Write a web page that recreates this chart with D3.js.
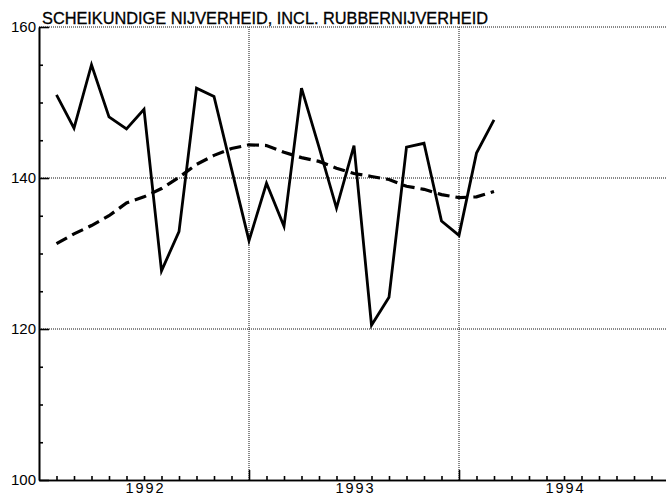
<!DOCTYPE html>
<html>
<head>
<meta charset="utf-8">
<script src="https://cdn.jsdelivr.net/npm/d3@7"></script>
<style>
  body { margin: 0; background: #fff; }
  svg { display: block; font-family: "Liberation Sans", Arial, sans-serif; }
</style>
</head>
<body>
<div id="chart"></div>
<script>
// monthly points, index 1 = end of jan 1992
var monthIdx = d3.range(1, 27)
var actual = [151.0, 146.6, 155.0, 148.1, 146.5, 149.1, 127.7, 132.9, 151.9, 150.8, 141.2, 131.7,
              139.3, 133.6, 151.9, 144.1, 136.0, 144.3, 120.5, 124.2, 144.1, 144.6, 134.3, 132.4,
              143.3, 147.7]
var trend = [131.3, 132.6, 133.7, 135.0, 136.7, 137.5, 138.6, 140.1, 141.8, 143.0, 143.9, 144.4,
             144.3, 143.4, 142.7, 142.2, 141.3, 140.6, 140.2, 139.8, 138.9, 138.5, 137.8, 137.4,
             137.5, 138.2]
var years = ['1992', '1993', '1994']
var yMajor = [100, 120, 140, 160]
var yMinor = [105, 110, 115, 125, 130, 135, 145, 150, 155]
var title = 'SCHEIKUNDIGE NIJVERHEID, INCL. RUBBERNIJVERHEID'

var svg_width = 666, svg_height = 498

var svg = d3.select('#chart')
  .append('svg')
  .attr('width', svg_width)
  .attr('height', svg_height)

var x = d3.scaleLinear().domain([0, 36]).range([39, 669])
var y = d3.scaleLinear().domain([100, 160]).range([480, 27])

// dotted grid
svg.append('g').selectAll('line')
  .data([120, 140, 160])
  .enter().append('line')
  .attr('x1', x(0)).attr('x2', svg_width)
  .attr('y1', d => y(d)).attr('y2', d => y(d))
  .attr('stroke', '#111').attr('stroke-width', 1).attr('stroke-dasharray', '1,1')

svg.append('g').selectAll('line')
  .data([12, 24])
  .enter().append('line')
  .attr('x1', d => x(d)).attr('x2', d => x(d))
  .attr('y1', y(100)).attr('y2', y(160))
  .attr('stroke', '#111').attr('stroke-width', 1).attr('stroke-dasharray', '1,1')

// y axis
svg.append('g')
  .attr('transform', `translate(${x(0)},0)`)
  .call(d3.axisLeft(y).tickValues(yMajor).tickSize(-10).tickPadding(3).tickSizeOuter(0))
svg.append('g')
  .attr('transform', `translate(${x(0)},0)`)
  .call(d3.axisLeft(y).tickValues(yMinor).tickSize(-4).tickFormat('').tickSizeOuter(0))

// x axis: months and years
svg.append('g')
  .attr('transform', `translate(0,${y(100)})`)
  .call(d3.axisBottom(x).tickValues(d3.range(1, 36).filter(m => m % 12)).tickSize(-4).tickFormat('').tickSizeOuter(0))
svg.append('g')
  .attr('transform', `translate(0,${y(100)})`)
  .call(d3.axisBottom(x).tickValues([12, 24]).tickSize(-10).tickFormat('').tickSizeOuter(0))
svg.append('g')
  .classed('year-labels', true)
  .attr('transform', `translate(0,${y(100)})`)
  .call(d3.axisBottom(x).tickValues([6, 18, 30]).tickSize(0).tickPadding(3)
    .tickFormat((d, i) => years[i]).tickSizeOuter(0))
  .call(g => g.select('.domain').remove())

svg.selectAll('.tick text')
  .attr('font-size', 15)
  .attr('fill', '#000')
  .style('font-family', '"Liberation Sans", Arial, sans-serif')
svg.selectAll('.year-labels .tick text')
  .attr('font-size', 14.5)
  .attr('textLength', 38).attr('lengthAdjust', 'spacing')
svg.selectAll('.domain, .tick line').attr('stroke', '#000').attr('stroke-width', 1.6)

// series
var line = d3.line()
  .x((d, i) => x(monthIdx[i]))
  .y(d => y(d))

svg.append('path')
  .datum(trend)
  .attr('d', line)
  .attr('fill', 'none')
  .attr('stroke', '#000')
  .attr('stroke-width', 3.2)
  .attr('stroke-dasharray', '12,6')

svg.append('path')
  .datum(actual)
  .attr('d', line)
  .attr('fill', 'none')
  .attr('stroke', '#000')
  .attr('stroke-width', 2.8)
  .attr('stroke-linejoin', 'miter')

// title
svg.append('text')
  .attr('x', 42)
  .attr('y', 23.5)
  .attr('font-size', 16)
  .attr('textLength', 446)
  .attr('lengthAdjust', 'spacingAndGlyphs')
  .attr('stroke', '#000')
  .attr('stroke-width', 0.3)
  .style('font-family', '"Liberation Sans", Arial, sans-serif')
  .text(title)
</script>
</body>
</html>
